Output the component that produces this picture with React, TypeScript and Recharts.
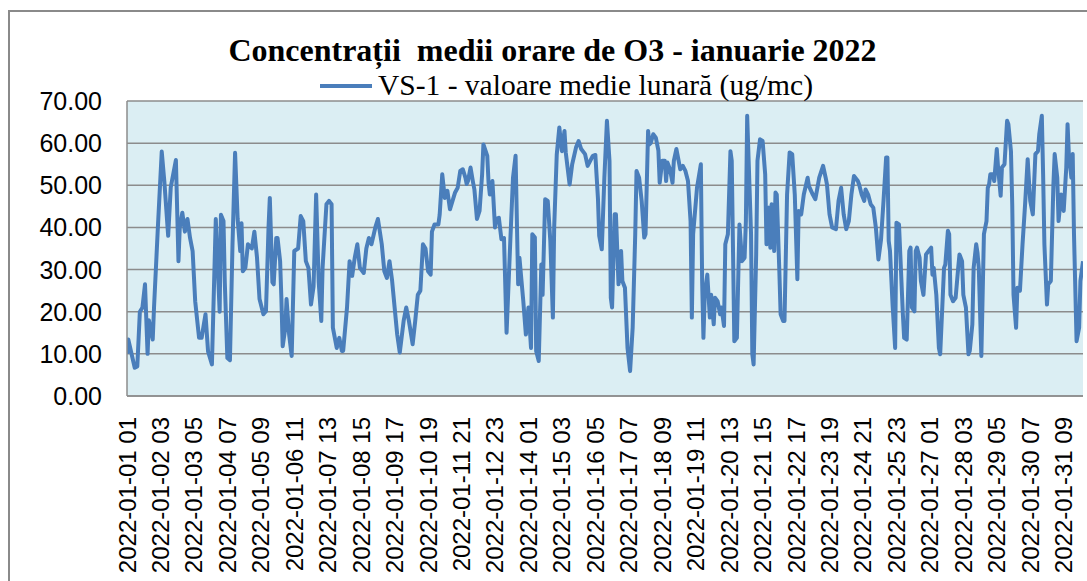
import React from "react";
import { LineChart, Line, XAxis, YAxis, CartesianGrid } from "recharts";

const chartTitle = "Concentrații  medii orare de O3 - ianuarie 2022";
const seriesName = "VS-1 - valoare medie lunară (ug/mc)";

const tickLabels = [
  "2022-01-01 01", "2022-01-02 03", "2022-01-03 05", "2022-01-04 07", "2022-01-05 09",
  "2022-01-06 11", "2022-01-07 13", "2022-01-08 15", "2022-01-09 17", "2022-01-10 19",
  "2022-01-11 21", "2022-01-12 23", "2022-01-14 01", "2022-01-15 03", "2022-01-16 05",
  "2022-01-17 07", "2022-01-18 09", "2022-01-19 11", "2022-01-20 13", "2022-01-21 15",
  "2022-01-22 17", "2022-01-23 19", "2022-01-24 21", "2022-01-25 23", "2022-01-27 01",
  "2022-01-28 03", "2022-01-29 05", "2022-01-30 07", "2022-01-31 09",
];
const hoursPerTick = 26;
const totalHours = 744;

const yTicks = [0, 10, 20, 30, 40, 50, 60, 70];

// hour index (0 = 2022-01-01 01) of each point
const hourIndex = [
  0, 1, 6, 8, 10, 12, 14, 16, 17, 20, 21, 24, 27, 29, 32, 34, 38, 40, 41, 43,
  45, 47, 49, 51, 53, 56, 58, 61, 63, 66, 69, 72, 73, 75, 76, 78, 80, 82, 84, 86,
  88, 89, 90, 92, 94, 97, 99, 101, 103, 106, 108, 110, 111, 113, 114, 116, 117, 119, 120, 121,
  123, 124, 126, 128, 130, 133, 135, 137, 139, 141, 143, 145, 147, 149, 151, 152, 155, 157, 159, 160,
  163, 165, 167, 168, 171, 173, 175, 177, 179, 181, 184, 186, 188, 190, 193, 195, 198, 200, 202, 204,
  206, 208, 210, 212, 215, 217, 219, 222, 224, 226, 228, 230, 232, 234, 236, 237, 239, 242, 243, 245,
  247, 249, 251, 253, 255, 257, 259, 261, 263, 264, 265, 267, 269, 270, 272, 274, 276, 277, 280, 281,
  282, 284, 286, 287, 289, 291, 293, 295, 298, 300, 302, 304, 305, 308, 310, 312, 314, 315, 317, 318,
  320, 322, 323, 325, 327, 329, 331, 332, 334, 336, 338, 340, 341, 344, 346, 349, 351, 353, 356, 358,
  360, 362, 364, 366, 367, 369, 371, 373, 375, 376, 377, 379, 380, 382, 384, 385, 387, 389, 391, 393,
  395, 396, 398, 400, 402, 403, 405, 406, 407, 409, 411, 413, 414, 416, 418, 419, 420, 422, 424, 425,
  427, 428, 430, 432, 434, 436, 438, 439, 440, 443, 446, 447, 448, 449, 451, 453, 454, 456, 457, 459,
  461, 462, 464, 465, 467, 469, 470, 472, 474, 476, 478, 480, 481, 482, 485, 486, 487, 489, 490, 492,
  494, 496, 497, 499, 500, 501, 503, 504, 505, 507, 508, 510, 511, 513, 515, 517, 519, 521, 522, 524,
  526, 529, 530, 533, 535, 538, 541, 543, 544, 546, 548, 551, 553, 555, 557, 559, 561, 563, 565, 568,
  569, 571, 573, 574, 576, 578, 580, 582, 584, 586, 588, 590, 591, 592, 593, 595, 597, 598, 600, 601,
  603, 604, 606, 608, 609, 610, 612, 613, 614, 616, 617, 619, 621, 623, 625, 626, 627, 629, 631, 632,
  635, 636, 638, 639, 640, 642, 644, 646, 647, 649, 650, 652, 654, 655, 657, 658, 660, 661, 662, 664,
  666, 668, 669, 670, 671, 673, 674, 676, 677, 679, 680, 682, 684, 685, 687, 688, 689, 691, 692, 694,
  696, 698, 700, 701, 702, 704, 706, 708, 709, 711, 712, 713, 715, 716, 718, 720, 721, 723, 724, 726,
  727, 728, 730, 731, 732, 734, 735, 736, 738, 740, 741, 743,
];

// O3 hourly concentration (ug/mc) at each of the hours above
const o3Values = [
  10, 13.4, 6.7, 7, 20, 21, 26.5, 10, 18, 13.4, 21, 40, 58, 51, 38, 49.5, 56, 32, 40, 43.5,
  39, 42, 37.5, 34.4, 22.5, 13.8, 13.8, 19.4, 10.6, 7.5, 42, 20, 43, 41.5, 27, 9, 8.5, 36, 57.7, 42,
  34.4, 41, 29.6, 30.4, 36, 35, 39, 33, 23, 19.4, 20.1, 40, 47, 27, 26.5, 37.5, 37.5, 32, 23, 11.8,
  16, 23, 14.6, 9.5, 34.4, 35, 42.7, 41.5, 32, 30.4, 21.7, 26, 47.8, 27, 17.8, 30.4, 45.5, 46.3, 45.5, 16.2,
  11.4, 13.8, 10.7, 10.7, 21, 32, 28.5, 32.8, 36, 30.4, 29.2, 35, 37.5, 36, 40, 42, 36, 29.6, 28, 32,
  27.5, 21, 14.6, 10.3, 17.8, 21, 18, 12.3, 17.8, 24, 25, 36, 35, 29.6, 28.8, 39, 40.7, 40.7, 43, 52.6,
  47, 48.7, 44.3, 46.3, 48.3, 49.4, 53.4, 53.8, 51.8, 50.3, 51, 54.2, 50.6, 49, 42, 43.9, 52.6, 59.7, 57, 50.6,
  47.8, 51, 40, 42, 42.3, 37.2, 37.5, 15, 37.5, 51.8, 57, 26.5, 32.8, 22.5, 14.6, 21, 11.4, 38.4, 37.6, 10.7,
  8.3, 31.2, 24, 46.7, 46.3, 36.8, 18.6, 40, 57.3, 63.7, 58.1, 62.9, 57.8, 50.2, 55, 59, 60.5, 58.6, 57.4, 54.6,
  55.8, 57, 57.2, 47, 38, 34.8, 51.8, 65.3, 55.8, 23.3, 21, 43.1, 43.1, 26.5, 34.4, 27.3, 25.7, 11.4, 5.9, 16.2,
  38.4, 53.4, 51.8, 46.3, 37.6, 38.4, 62.9, 59.7, 60, 62.1, 61.3, 58.2, 50.6, 55.8, 55.8, 51, 55.4, 53.8, 50.6, 55.8,
  58.6, 57, 53.8, 54.6, 53.4, 51, 41.5, 18.6, 38.4, 49.4, 55, 27.3, 13.8, 24, 28.8, 18.6, 24, 17, 23.3, 22.5,
  19.4, 21, 16.6, 36, 38.4, 58.1, 55.8, 13, 13.8, 40.7, 32, 32.8, 41.5, 66.5, 38.4, 9.9, 7.5, 33.6, 55.8, 60.9,
  60.5, 52.6, 36, 44.7, 35.2, 45.5, 34.4, 48.3, 47.8, 29.6, 19.4, 17.8, 17.8, 47.8, 57.8, 57.4, 47.8, 27.7, 43.9, 43.1,
  47.8, 51.8, 49.8, 47.8, 46.7, 51.8, 54.6, 51.8, 50.2, 43.1, 40, 39.6, 46.3, 49.4, 43.1, 39.6, 41.5, 47.8, 52.2, 51,
  50.2, 47.8, 46.3, 49, 47.8, 45.5, 44.7, 40, 32.4, 37, 46.5, 56.6, 56.6, 36.8, 34.4, 21.7, 11.4, 41.1, 40.7, 33.6,
  19.4, 13.8, 13.4, 34.4, 35.2, 21, 20.1, 34.4, 35.2, 32.8, 27.3, 24, 33.6, 34.4, 35.2, 28.8, 30.4, 24, 11.4, 9.9,
  30.4, 31.2, 39.2, 38.4, 24, 22.5, 23.3, 30.4, 33.6, 32, 24, 21, 9.9, 10.7, 17, 30.4, 36, 34, 30.4, 9.5,
  38.4, 41.5, 49.4, 50.2, 52.6, 52.6, 51, 58.6, 54.2, 47.5, 54.2, 55, 65.3, 64.5, 58.1, 45.5, 24, 16.2, 25.7, 25,
  36, 45.5, 56.2, 51, 46.3, 43.1, 57.4, 58.1, 62.1, 66.5, 52.6, 36, 21.7, 26.5, 27.3, 50.2, 57.4, 51.8, 41.5, 47.8,
  47, 43.9, 54.2, 64.5, 57.4, 51.8, 57.4, 38.4, 13, 16.2, 27.3, 32,
];

const data = hourIndex.map((h, i) => ({ h, v: o3Values[i] }));
const xTicks = tickLabels.map((_, i) => i * hoursPerTick);

const LINE_COLOR = "#4A7EBB";
const GRID_COLOR = "#8C8C8C";
const PLOT_BG = "#DBEEF3";

const XTick = (props: any) => {
  const { x, y, payload } = props;
  const label = tickLabels[Math.round(payload.value / hoursPerTick)];
  const ty = y + 13;
  return (
    <text
      x={x}
      y={ty}
      transform={`rotate(-90 ${x} ${ty})`}
      textAnchor="end"
      dominantBaseline="central"
      fontFamily="'Liberation Sans', Arial, sans-serif"
      fontSize={24}
      fill="#000"
    >
      {label}
    </text>
  );
};

const YTick = (props: any) => {
  const { y, payload } = props;
  return (
    <text
      x={102}
      y={y}
      textAnchor="end"
      dominantBaseline="central"
      fontFamily="'Liberation Sans', Arial, sans-serif"
      fontSize={25}
      fill="#000"
    >
      {Number(payload.value).toFixed(2)}
    </text>
  );
};

export default function App() {
  return (
    <div
      style={{
        position: "absolute",
        left: 0,
        top: 0,
        width: 1087,
        height: 581,
        overflow: "hidden",
        background: "#fff",
      }}
    >
      <div
        style={{
          position: "absolute",
          left: 8,
          top: 10,
          width: 1200,
          height: 700,
          borderLeft: "2px solid #8a8a8a",
          borderTop: "2px solid #8a8a8a",
        }}
      />
      <LineChart
        width={1087}
        height={581}
        data={data}
        margin={{ top: 101, right: 4, bottom: 5, left: 27 }}
      >
        <CartesianGrid
          vertical={false}
          stroke={GRID_COLOR}
          strokeWidth={1.5}
          fill={PLOT_BG}
          fillOpacity={1}
        />
        <XAxis
          dataKey="h"
          type="number"
          domain={[0, totalHours - 1]}
          ticks={xTicks}
          interval={0}
          height={180}
          tickLine={false}
          axisLine={{ stroke: GRID_COLOR, strokeWidth: 1.5 }}
          tick={<XTick />}
          allowDataOverflow
        />
        <YAxis
          domain={[0, 70]}
          ticks={yTicks}
          width={100}
          tickLine={false}
          axisLine={{ stroke: GRID_COLOR, strokeWidth: 1.5 }}
          tick={<YTick />}
          interval={0}
        />
        <Line
          type="linear"
          dataKey="v"
          stroke={LINE_COLOR}
          strokeWidth={4}
          dot={false}
          isAnimationActive={false}
          strokeLinejoin="round"
        />
      </LineChart>
      <svg
        width={1087}
        height={120}
        style={{ position: "absolute", left: 0, top: 0, pointerEvents: "none" }}
      >
        <text
          x={552.5}
          y={61}
          textAnchor="middle"
          fontFamily="'Liberation Serif', 'Times New Roman', serif"
          fontWeight="bold"
          fontSize={32}
          fill="#000"
          style={{ whiteSpace: "pre" }}
        >
          {chartTitle}
        </text>
        <line x1={320} x2={372} y1={86} y2={86} stroke={LINE_COLOR} strokeWidth={4} />
        <text
          x={378}
          y={95}
          fontFamily="'Liberation Serif', 'Times New Roman', serif"
          fontSize={29.5}
          fill="#000"
        >
          {seriesName}
        </text>
      </svg>
    </div>
  );
}
